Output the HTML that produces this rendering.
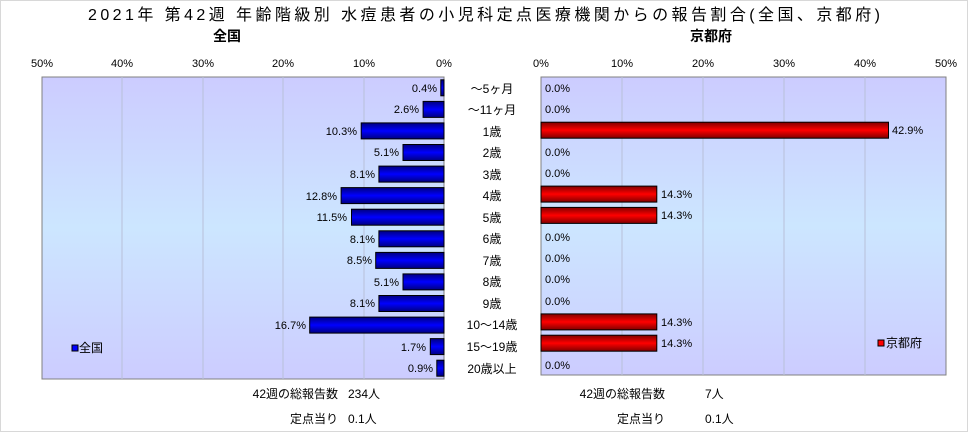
<!DOCTYPE html>
<html><head><meta charset="utf-8"><style>
body{margin:0;background:#fff}
svg{display:block;font-family:"Liberation Sans","Noto Sans CJK JP",sans-serif}
</style></head><body>
<svg width="968" height="432" xmlns="http://www.w3.org/2000/svg">
<defs>
<linearGradient id="bg" x1="0" y1="0" x2="0" y2="1">
<stop offset="0" stop-color="#ccccff"/><stop offset="0.5" stop-color="#cce6ff"/><stop offset="1" stop-color="#ccccff"/></linearGradient>
<linearGradient id="bl" x1="0" y1="0" x2="0" y2="1">
<stop offset="0" stop-color="#000080"/><stop offset="0.5" stop-color="#0000ff"/><stop offset="1" stop-color="#000080"/></linearGradient>
<linearGradient id="rd" x1="0" y1="0" x2="0" y2="1">
<stop offset="0" stop-color="#800000"/><stop offset="0.5" stop-color="#ff0000"/><stop offset="1" stop-color="#800000"/></linearGradient>
</defs>
<rect x="0.5" y="0.5" width="967" height="431" fill="#fff" stroke="#d8d8d8"/>
<text x="88" y="20" font-size="16" textLength="792" lengthAdjust="spacing">2021年 第42週 年齢階級別 水痘患者の小児科定点医療機関からの報告割合(全国、京都府)</text>
<text x="227" y="41" font-size="14" text-anchor="middle" font-weight="bold">全国</text>
<text x="711" y="41" font-size="14" text-anchor="middle" font-weight="bold">京都府</text>
<g font-size="11" text-anchor="middle">
<text x="42" y="67">50%</text><text x="122" y="67">40%</text><text x="203" y="67">30%</text><text x="283" y="67">20%</text><text x="364" y="67">10%</text><text x="444" y="67">0%</text>
<text x="541" y="67">0%</text><text x="622" y="67">10%</text><text x="703" y="67">20%</text><text x="784" y="67">30%</text><text x="865" y="67">40%</text><text x="946" y="67">50%</text>
</g>
<rect x="42" y="77" width="402" height="302" fill="url(#bg)" stroke="#808080"/>
<rect x="541" y="77" width="405" height="298" fill="url(#bg)" stroke="#808080"/>
<g stroke="#b8c0d8">
<line x1="122" y1="77" x2="122" y2="379"/><line x1="203" y1="77" x2="203" y2="379"/><line x1="283" y1="77" x2="283" y2="379"/><line x1="364" y1="77" x2="364" y2="379"/>
<line x1="622" y1="77" x2="622" y2="375"/><line x1="703" y1="77" x2="703" y2="375"/><line x1="784" y1="77" x2="784" y2="375"/><line x1="865" y1="77" x2="865" y2="375"/>
</g>
<g fill="url(#bl)" stroke="#000">
<rect x="440.8" y="79.8" width="3.2" height="16"/>
<rect x="423.1" y="101.4" width="20.9" height="16"/>
<rect x="361.2" y="122.9" width="82.8" height="16"/>
<rect x="403" y="144.5" width="41" height="16"/>
<rect x="378.9" y="166.1" width="65.1" height="16"/>
<rect x="341.1" y="187.6" width="102.9" height="16"/>
<rect x="351.5" y="209.2" width="92.5" height="16"/>
<rect x="378.9" y="230.8" width="65.1" height="16"/>
<rect x="375.7" y="252.4" width="68.3" height="16"/>
<rect x="403" y="273.9" width="41" height="16"/>
<rect x="378.9" y="295.5" width="65.1" height="16"/>
<rect x="309.7" y="317.1" width="134.3" height="16"/>
<rect x="430.3" y="338.6" width="13.7" height="16"/>
<rect x="436.8" y="360.2" width="7.2" height="16"/>
</g>
<g font-size="11" text-anchor="end">
<text x="437" y="92">0.4%</text>
<text x="419" y="113">2.6%</text>
<text x="357" y="135">10.3%</text>
<text x="399" y="156">5.1%</text>
<text x="375" y="178">8.1%</text>
<text x="337" y="200">12.8%</text>
<text x="347" y="221">11.5%</text>
<text x="375" y="243">8.1%</text>
<text x="372" y="264">8.5%</text>
<text x="399" y="286">5.1%</text>
<text x="375" y="307">8.1%</text>
<text x="306" y="329">16.7%</text>
<text x="426" y="351">1.7%</text>
<text x="433" y="372">0.9%</text>
</g>
<g fill="url(#rd)" stroke="#000">
<rect x="541" y="122.2" width="347.5" height="16"/>
<rect x="541" y="186.1" width="115.8" height="16"/>
<rect x="541" y="207.4" width="115.8" height="16"/>
<rect x="541" y="313.9" width="115.8" height="16"/>
<rect x="541" y="335.2" width="115.8" height="16"/>
</g>
<g font-size="11">
<text x="545" y="92">0.0%</text>
<text x="545" y="113">0.0%</text>
<text x="892" y="134">42.9%</text>
<text x="545" y="156">0.0%</text>
<text x="545" y="177">0.0%</text>
<text x="661" y="198">14.3%</text>
<text x="661" y="219">14.3%</text>
<text x="545" y="241">0.0%</text>
<text x="545" y="262">0.0%</text>
<text x="545" y="283">0.0%</text>
<text x="545" y="305">0.0%</text>
<text x="661" y="326">14.3%</text>
<text x="661" y="347">14.3%</text>
<text x="545" y="369">0.0%</text>
</g>
<g font-size="12" text-anchor="middle">
<text x="492" y="93">～5ヶ月</text>
<text x="492" y="114">～11ヶ月</text>
<text x="492" y="136">1歳</text>
<text x="492" y="157">2歳</text>
<text x="492" y="179">3歳</text>
<text x="492" y="200">4歳</text>
<text x="492" y="222">5歳</text>
<text x="492" y="243">6歳</text>
<text x="492" y="265">7歳</text>
<text x="492" y="286">8歳</text>
<text x="492" y="308">9歳</text>
<text x="492" y="329">10～14歳</text>
<text x="492" y="351">15～19歳</text>
<text x="492" y="373">20歳以上</text>
</g>
<rect x="72" y="345" width="6" height="6" fill="#0000ff" stroke="#000"/>
<text x="79" y="352" font-size="12">全国</text>
<rect x="878" y="340" width="6" height="6" fill="#ff0000" stroke="#000"/>
<text x="886" y="347" font-size="12">京都府</text>
<g font-size="12">
<text x="338" y="398" text-anchor="end">42週の総報告数</text><text x="348" y="398">234人</text>
<text x="338" y="423" text-anchor="end">定点当り</text><text x="348" y="423">0.1人</text>
<text x="665" y="398" text-anchor="end">42週の総報告数</text><text x="705" y="398">7人</text>
<text x="665" y="423" text-anchor="end">定点当り</text><text x="705" y="423">0.1人</text>
</g>
</svg>
</body></html>
